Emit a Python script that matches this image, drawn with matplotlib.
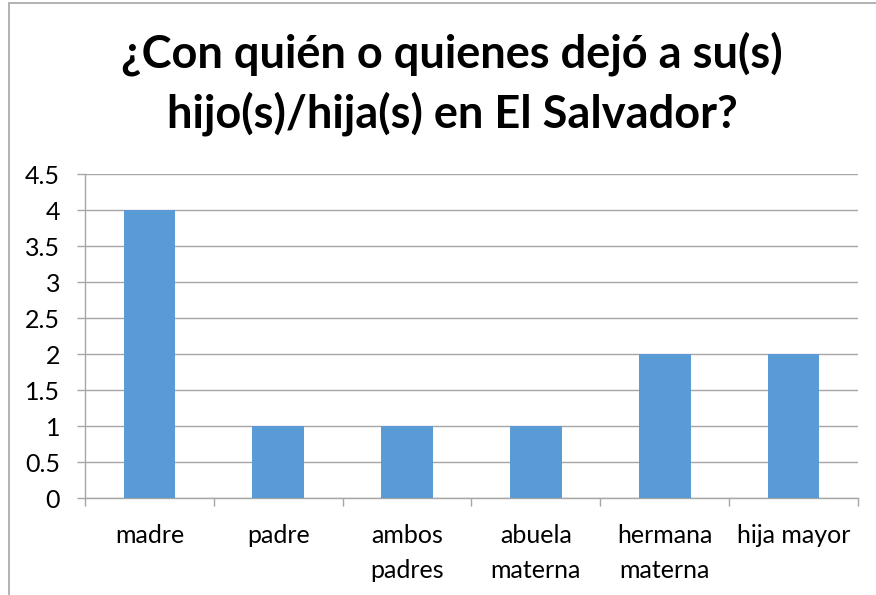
import matplotlib
matplotlib.use("Agg")
import matplotlib.pyplot as plt
from matplotlib.patches import Rectangle

categories = ["madre", "padre", "ambos\npadres", "abuela\nmaterna", "hermana\nmaterna", "hija mayor"]
values = [4, 1, 1, 1, 2, 2]
yticks = [0, 0.5, 1, 1.5, 2, 2.5, 3, 3.5, 4, 4.5]
ytick_labels = ["0", "0.5", "1", "1.5", "2", "2.5", "3", "3.5", "4", "4.5"]
title_lines = ["¿Con quién o quienes dejó a su(s)", "hijo(s)/hija(s) en El Salvador?"]

plt.rcParams['font.family'] = ['Lato', 'DejaVu Sans']

W, H = 876, 595
fig = plt.figure(figsize=(W / 100, H / 100), dpi=100)

# chart border (top and left visible)
fig.patches.append(Rectangle((9 / W, -0.1), 1.2, 1 - 3 / H + 0.1, transform=fig.transFigure,
                             fill=False, edgecolor="#A6A6A6", linewidth=1.2))

ax = fig.add_axes([85 / W, 1 - 498 / H, (858 - 85) / W, (498 - 174) / H])

grid_color = "#A6A6A6"
x = list(range(len(categories)))
ax.bar(x, values, width=0.4, color="#5B9BD5", zorder=3)

ax.set_xlim(-0.5, len(categories) - 0.5)
ax.set_ylim(0, 4.5)
ax.set_yticks(yticks)
ax.set_yticklabels(ytick_labels)
ax.yaxis.grid(True, color=grid_color, linewidth=1.0, zorder=0)
ax.set_axisbelow(True)

for s in ["top", "right"]:
    ax.spines[s].set_visible(False)
for s in ["left", "bottom"]:
    ax.spines[s].set_color(grid_color)
    ax.spines[s].set_linewidth(1.0)

ax.tick_params(axis="y", length=6, width=1.0, color=grid_color, pad=12, labelsize=18, labelcolor="black")
# category boundaries as x ticks
ax.set_xticks([i - 0.5 for i in range(len(categories) + 1)], minor=False)
ax.set_xticklabels([])
ax.tick_params(axis="x", which="major", length=6, width=1.0, color=grid_color)
ax.set_xticks(x, minor=True)
ax.set_xticklabels(categories, minor=True, fontsize=18, linespacing=1.6)
ax.tick_params(axis="x", which="minor", length=0, pad=19, labelcolor="black")

for line, yb in zip(title_lines, [67, 128]):
    fig.text(452 / W, 1 - yb / H, line, ha="center", va="baseline",
             fontsize=32.5, fontweight="bold", color="black")

fig.savefig("out.png", dpi=100)
